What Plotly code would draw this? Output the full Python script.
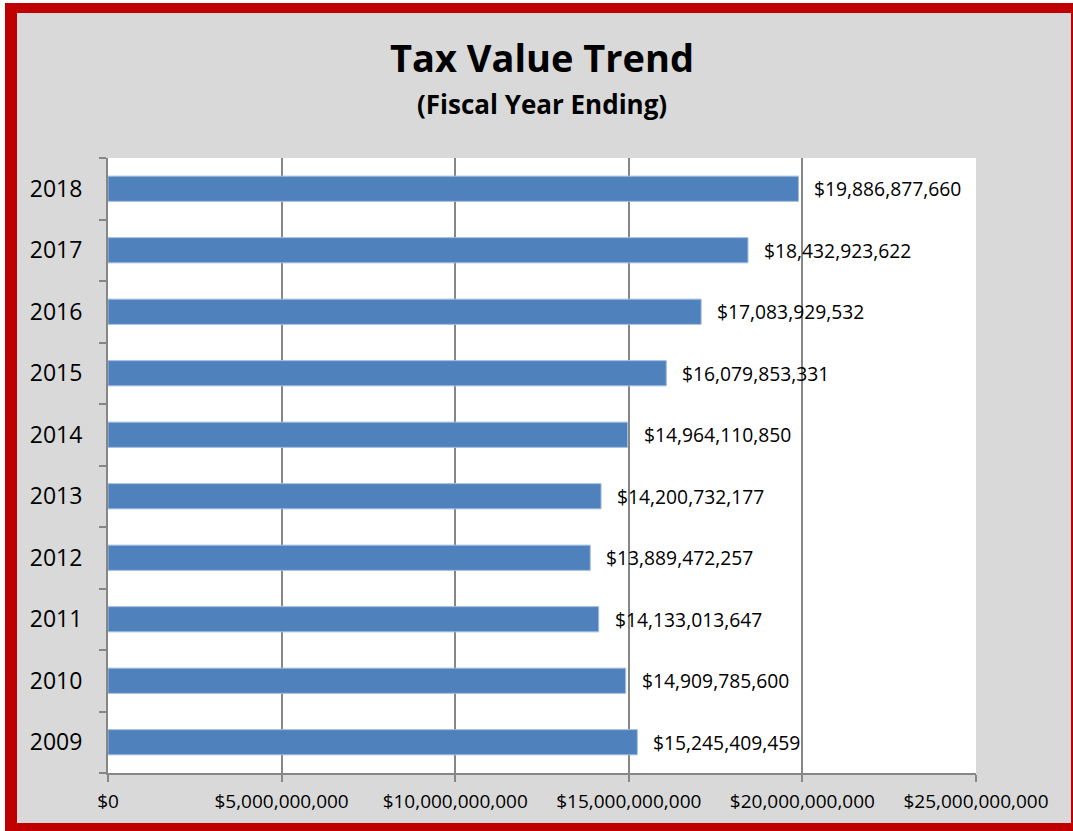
import plotly.graph_objects as go

# Fiscal years and assessed tax values (USD)
years = ["2009", "2010", "2011", "2012", "2013", "2014", "2015", "2016", "2017", "2018"]
tax_values = [
    15245409459,
    14909785600,
    14133013647,
    13889472257,
    14200732177,
    14964110850,
    16079853331,
    17083929532,
    18432923622,
    19886877660,
]
x_ticks = [0, 5e9, 10e9, 15e9, 20e9, 25e9]
x_tick_labels = ["$0", "$5,000,000,000", "$10,000,000,000", "$15,000,000,000",
                 "$20,000,000,000", "$25,000,000,000"]

W, H = 1073, 831
ML, MR, MT, MB = 108, 97, 158, 58
PW, PH = W - ML - MR, H - MT - MB

FONT = "Open Sans"
AXIS_GRAY = "#868686"
BAR_BLUE = "#4f81bd"
FRAME_RED = "#c00000"


def px_x(px):
    return (px - ML) / PW


def px_y(py):
    return (H - MB - py) / PH


fig = go.Figure()
fig.add_trace(go.Bar(
    x=tax_values,
    y=years,
    orientation="h",
    marker=dict(color=BAR_BLUE, line=dict(color="#a3bde0", width=1)),
    hoverinfo="x+y",
))

# value labels to the right of each bar (category index positions)
for i, v in enumerate(tax_values):
    fig.add_annotation(
        x=v, y=i, xref="x", yref="y",
        text=f"${v:,}", showarrow=False,
        xanchor="left", yanchor="middle", xshift=14,
        font=dict(family=FONT, size=19.3, color="#000000"),
    )

# titles
fig.add_annotation(
    x=0.5, y=px_y(57), xref="paper", yref="paper",
    text="<b>Tax Value Trend</b>", showarrow=False,
    xanchor="center", yanchor="middle",
    font=dict(family=FONT, size=38, color="#000000"),
)
fig.add_annotation(
    x=0.5, y=px_y(104), xref="paper", yref="paper",
    text="<b>(Fiscal Year Ending)</b>", showarrow=False,
    xanchor="center", yanchor="middle",
    font=dict(family=FONT, size=26, color="#000000"),
)

# red frame around the chart
frame = [
    (5, 0, W, 13),        # top
    (5, 0, 17, H),        # left
    (5, 823, W, H),       # bottom
    (1071, 0, W, H),      # right
]
shapes = []
for x0, y0, x1, y1 in frame:
    shapes.append(dict(
        type="rect", xref="paper", yref="paper",
        x0=px_x(x0), x1=px_x(x1), y0=px_y(y1), y1=px_y(y0),
        fillcolor=FRAME_RED, line=dict(width=0), layer="above",
    ))
# white page corner outside the frame
for x0, y0, x1, y1 in [(0, 0, W, 3), (0, 0, 5, H)]:
    shapes.append(dict(
        type="rect", xref="paper", yref="paper",
        x0=px_x(x0), x1=px_x(x1), y0=px_y(y1), y1=px_y(y0),
        fillcolor="#ffffff", line=dict(width=0), layer="above",
    ))

fig.update_layout(
    width=W, height=H,
    margin=dict(l=ML, r=MR, t=MT, b=MB, pad=0),
    paper_bgcolor="#d9d9d9",
    plot_bgcolor="#ffffff",
    showlegend=False,
    bargap=0.59,
    shapes=shapes,
    font=dict(family=FONT, color="#000000"),
    xaxis=dict(
        range=[0, 25e9],
        tickvals=x_ticks,
        ticktext=x_tick_labels,
        showgrid=True, gridcolor=AXIS_GRAY, gridwidth=2,
        zeroline=False,
        showline=True, linecolor=AXIS_GRAY, linewidth=2,
        ticks="outside", ticklen=7, tickcolor=AXIS_GRAY, tickwidth=2,
        tickfont=dict(family=FONT, size=19, color="#000000"),
        ticklabelstandoff=3,
        fixedrange=True,
    ),
    yaxis=dict(
        type="category",
        categoryorder="array", categoryarray=years,
        range=[-0.5, len(years) - 0.5],
        showgrid=False, zeroline=False,
        showline=True, linecolor=AXIS_GRAY, linewidth=2,
        ticks="outside", tickson="boundaries", ticklen=7,
        tickcolor=AXIS_GRAY, tickwidth=2,
        tickfont=dict(family=FONT, size=23, color="#000000"),
        ticklabelstandoff=19,
        fixedrange=True,
    ),
)

fig.write_html("out.html")
